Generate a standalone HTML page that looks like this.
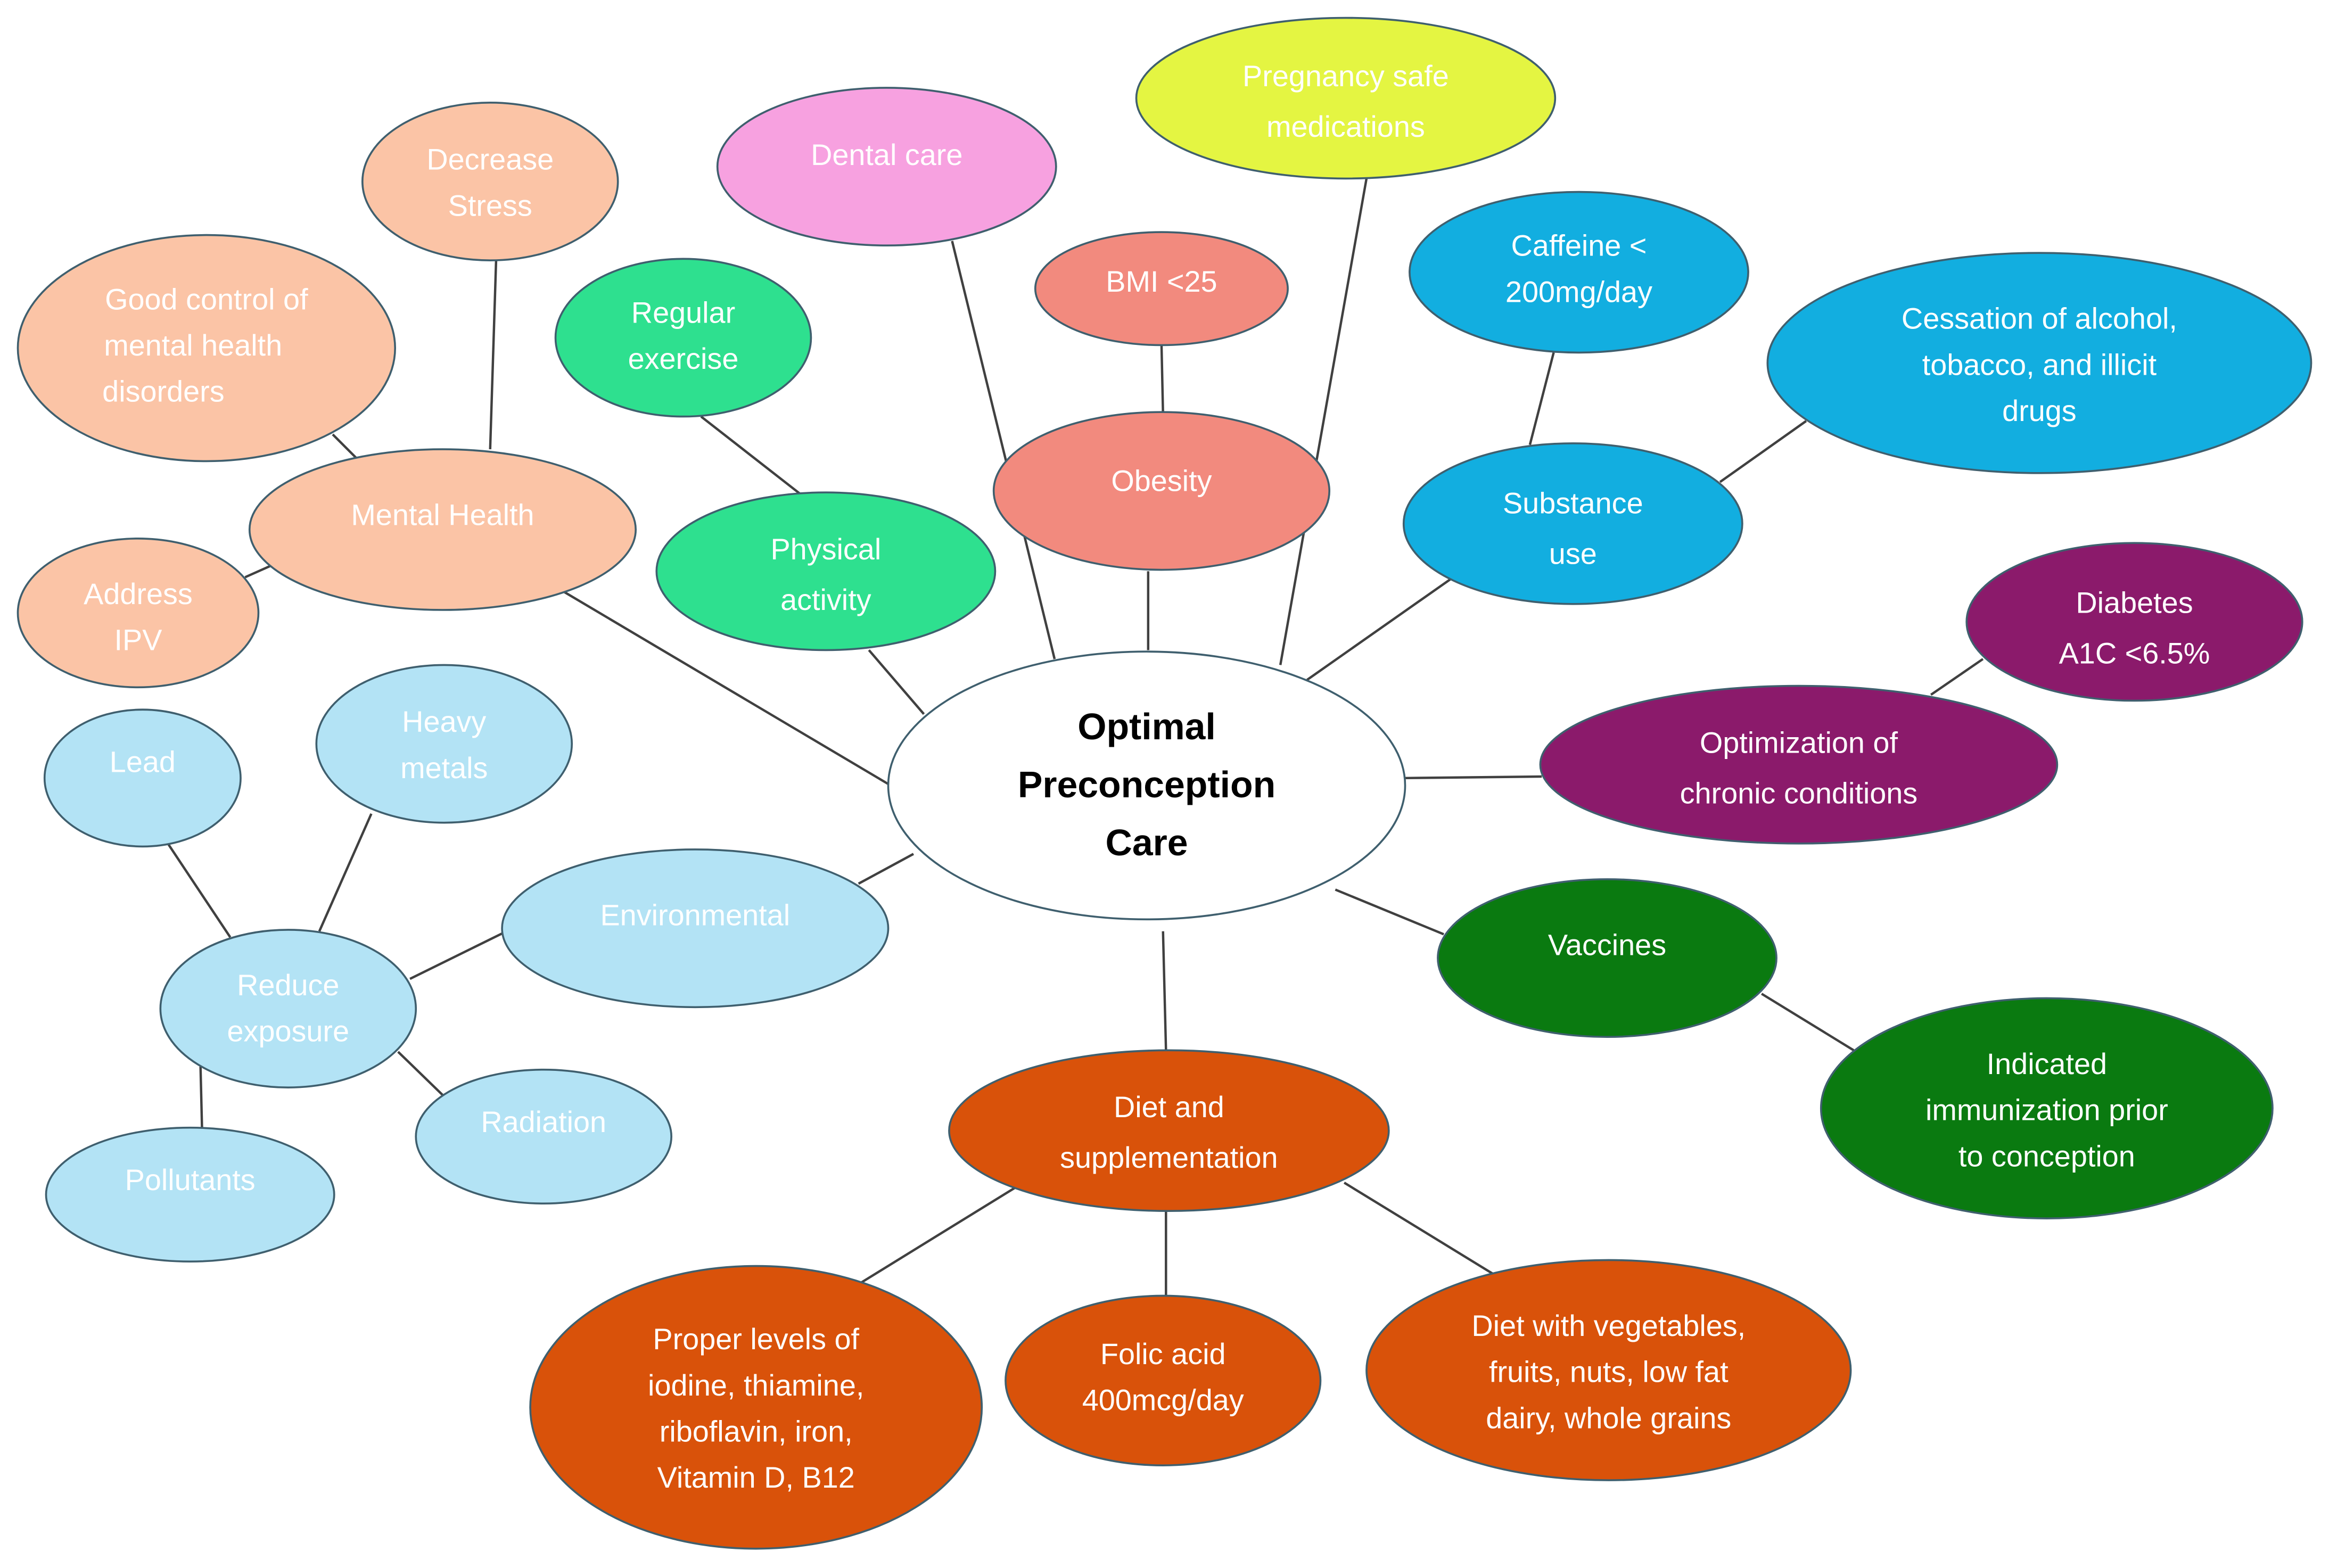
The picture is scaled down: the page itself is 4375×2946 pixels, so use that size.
<!DOCTYPE html>
<html><head><meta charset="utf-8"><style>
html,body{margin:0;padding:0;background:#fff;}
svg{display:block;}
text{font-family:"Liberation Sans",Arial,sans-serif;font-size:20px;fill:#fff;text-anchor:middle;}
.c{fill:#000;font-weight:bold;font-size:25px;}
ellipse{stroke:#3f5f6e;stroke-width:1.3;}
line{stroke:#404040;stroke-width:1.6;}
</style></head><body>
<svg width="4375" height="2946" viewBox="0 0 1568 1054" preserveAspectRatio="none" xmlns="http://www.w3.org/2000/svg">
<rect width="1568" height="1054" fill="#fff"/>
<!-- lines -->
<line x1="380" y1="398" x2="598" y2="527"/>
<line x1="585" y1="437" x2="622" y2="480"/>
<line x1="641" y1="162" x2="710" y2="443"/>
<line x1="773" y1="384" x2="773" y2="437"/>
<line x1="920" y1="120" x2="862" y2="447"/>
<line x1="977" y1="389" x2="880" y2="457"/>
<line x1="946" y1="523" x2="1038" y2="522"/>
<line x1="899" y1="598" x2="972" y2="628"/>
<line x1="783" y1="626" x2="785" y2="706"/>
<line x1="578" y1="594" x2="615" y2="574"/>
<line x1="334" y1="175" x2="330" y2="302"/>
<line x1="224" y1="292" x2="242" y2="310"/>
<line x1="165" y1="388" x2="183" y2="380"/>
<line x1="472" y1="280" x2="540" y2="333"/>
<line x1="782" y1="232" x2="783" y2="278"/>
<line x1="1046" y1="237" x2="1030" y2="299"/>
<line x1="1216" y1="283" x2="1158" y2="324"/>
<line x1="1335" y1="443" x2="1300" y2="467"/>
<line x1="1186" y1="668" x2="1248" y2="706"/>
<line x1="684" y1="798" x2="580" y2="862"/>
<line x1="785" y1="814" x2="785" y2="872"/>
<line x1="905" y1="795" x2="1008" y2="858"/>
<line x1="339" y1="627" x2="276" y2="658"/>
<line x1="113" y1="567" x2="155" y2="630"/>
<line x1="250" y1="547" x2="215" y2="626"/>
<line x1="268" y1="707" x2="300" y2="738"/>
<line x1="135" y1="717" x2="136" y2="758"/>
<!-- center -->
<ellipse cx="772" cy="528" rx="174" ry="90" fill="#fff"/>
<text class="c" x="772" y="497">Optimal</text>
<text class="c" x="772" y="536">Preconception</text>
<text class="c" x="772" y="575">Care</text>
<!-- mental health (peach) -->
<g fill="#FBC4A6">
<ellipse cx="298" cy="356" rx="130" ry="54"/>
<ellipse cx="330" cy="122" rx="86" ry="53"/>
<ellipse cx="139" cy="234" rx="127" ry="76"/>
<ellipse cx="93" cy="412" rx="81" ry="50"/>
</g>
<text x="298" y="353">Mental Health</text>
<text x="330" y="114">Decrease</text><text x="330" y="145">Stress</text>
<text x="139" y="208">Good control of</text><text x="130" y="239">mental health</text><text x="110" y="270">disorders</text>
<text x="93" y="406">Address</text><text x="93" y="437">IPV</text>
<!-- physical -->
<g fill="#2EE08F">
<ellipse cx="460" cy="227" rx="86" ry="53"/>
<ellipse cx="556" cy="384" rx="114" ry="53"/>
</g>
<text x="460" y="217">Regular</text><text x="460" y="248">exercise</text>
<text x="556" y="376">Physical</text><text x="556" y="410">activity</text>
<!-- dental -->
<ellipse cx="597" cy="112" rx="114" ry="53" fill="#F7A1E0"/>
<text x="597" y="111">Dental care</text>
<!-- pregnancy -->
<ellipse cx="906" cy="66" rx="141" ry="54" fill="#E4F542"/>
<text x="906" y="58">Pregnancy safe</text><text x="906" y="92">medications</text>
<!-- obesity -->
<g fill="#F28A7E">
<ellipse cx="782" cy="194" rx="85" ry="38"/>
<ellipse cx="782" cy="330" rx="113" ry="53"/>
</g>
<text x="782" y="196">BMI &lt;25</text>
<text x="782" y="330">Obesity</text>
<!-- substance -->
<g fill="#12AEE0">
<ellipse cx="1063" cy="183" rx="114" ry="54"/>
<ellipse cx="1373" cy="244" rx="183" ry="74"/>
<ellipse cx="1059" cy="352" rx="114" ry="54"/>
</g>
<text x="1063" y="172">Caffeine &lt;</text><text x="1063" y="203">200mg/day</text>
<text x="1373" y="221">Cessation of alcohol,</text><text x="1373" y="252">tobacco, and illicit</text><text x="1373" y="283">drugs</text>
<text x="1059" y="345">Substance</text><text x="1059" y="379">use</text>
<!-- chronic -->
<g fill="#8B1A6B">
<ellipse cx="1437" cy="418" rx="113" ry="53"/>
<ellipse cx="1211" cy="514" rx="174" ry="53"/>
</g>
<text x="1437" y="412">Diabetes</text><text x="1437" y="446">A1C &lt;6.5%</text>
<text x="1211" y="506">Optimization of</text><text x="1211" y="540">chronic conditions</text>
<!-- vaccines -->
<g fill="#0A7A10">
<ellipse cx="1082" cy="644" rx="114" ry="53"/>
<ellipse cx="1378" cy="745" rx="152" ry="74"/>
</g>
<text x="1082" y="642">Vaccines</text>
<text x="1378" y="722">Indicated</text><text x="1378" y="753">immunization prior</text><text x="1378" y="784">to conception</text>
<!-- diet -->
<g fill="#D9520A">
<ellipse cx="787" cy="760" rx="148" ry="54"/>
<ellipse cx="509" cy="946" rx="152" ry="95"/>
<ellipse cx="783" cy="928" rx="106" ry="57"/>
<ellipse cx="1083" cy="921" rx="163" ry="74"/>
</g>
<text x="787" y="751">Diet and</text><text x="787" y="785">supplementation</text>
<text x="509" y="907">Proper levels of</text><text x="509" y="938">iodine, thiamine,</text><text x="509" y="969">riboflavin, iron,</text><text x="509" y="1000">Vitamin D, B12</text>
<text x="783" y="917">Folic acid</text><text x="783" y="948">400mcg/day</text>
<text x="1083" y="898">Diet with vegetables,</text><text x="1083" y="929">fruits, nuts, low fat</text><text x="1083" y="960">dairy, whole grains</text>
<!-- environmental -->
<g fill="#B3E3F5">
<ellipse cx="468" cy="624" rx="130" ry="53"/>
<ellipse cx="96" cy="523" rx="66" ry="46"/>
<ellipse cx="299" cy="500" rx="86" ry="53"/>
<ellipse cx="194" cy="678" rx="86" ry="53"/>
<ellipse cx="366" cy="764" rx="86" ry="45"/>
<ellipse cx="128" cy="803" rx="97" ry="45"/>
</g>
<text x="468" y="622">Environmental</text>
<text x="96" y="519">Lead</text>
<text x="299" y="492">Heavy</text><text x="299" y="523">metals</text>
<text x="194" y="669">Reduce</text><text x="194" y="700">exposure</text>
<text x="366" y="761">Radiation</text>
<text x="128" y="800">Pollutants</text>
</svg>
</body></html>
